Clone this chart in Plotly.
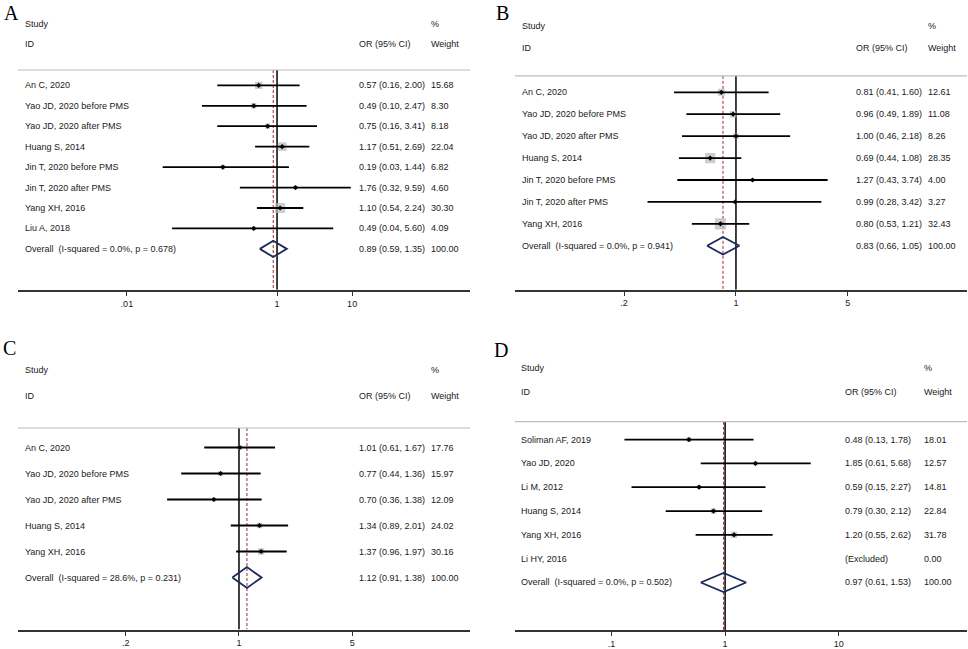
import plotly.graph_objects as go

W, H = 968, 649

# ---- data ----
a_names = ["An C, 2020", "Yao JD, 2020 before PMS", "Yao JD, 2020 after PMS", "Huang S, 2014",
           "Jin T, 2020 before PMS", "Jin T, 2020 after PMS", "Yang XH, 2016", "Liu A, 2018"]
a_or = [0.57, 0.49, 0.75, 1.17, 0.19, 1.76, 1.10, 0.49]
a_lo = [0.16, 0.10, 0.16, 0.51, 0.03, 0.32, 0.54, 0.04]
a_hi = [2.00, 2.47, 3.41, 2.69, 1.44, 9.59, 2.24, 5.60]
a_w = [15.68, 8.30, 8.18, 22.04, 6.82, 4.60, 30.30, 4.09]
a_overall = [0.89, 0.59, 1.35]
a_het = "Overall  (I-squared = 0.0%, p = 0.678)"

b_names = ["An C, 2020", "Yao JD, 2020 before PMS", "Yao JD, 2020 after PMS", "Huang S, 2014",
           "Jin T, 2020 before PMS", "Jin T, 2020 after PMS", "Yang XH, 2016"]
b_or = [0.81, 0.96, 1.00, 0.69, 1.27, 0.99, 0.80]
b_lo = [0.41, 0.49, 0.46, 0.44, 0.43, 0.28, 0.53]
b_hi = [1.60, 1.89, 2.18, 1.08, 3.74, 3.42, 1.21]
b_w = [12.61, 11.08, 8.26, 28.35, 4.00, 3.27, 32.43]
b_overall = [0.83, 0.66, 1.05]
b_het = "Overall  (I-squared = 0.0%, p = 0.941)"

c_names = ["An C, 2020", "Yao JD, 2020 before PMS", "Yao JD, 2020 after PMS", "Huang S, 2014", "Yang XH, 2016"]
c_or = [1.01, 0.77, 0.70, 1.34, 1.37]
c_lo = [0.61, 0.44, 0.36, 0.89, 0.96]
c_hi = [1.67, 1.36, 1.38, 2.01, 1.97]
c_w = [17.76, 15.97, 12.09, 24.02, 30.16]
c_overall = [1.12, 0.91, 1.38]
c_het = "Overall  (I-squared = 28.6%, p = 0.231)"

d_names = ["Soliman AF, 2019", "Yao JD, 2020", "Li M, 2012", "Huang S, 2014", "Yang XH, 2016", "Li HY, 2016"]
d_or = [0.48, 1.85, 0.59, 0.79, 1.20, None]
d_lo = [0.13, 0.61, 0.15, 0.30, 0.55, None]
d_hi = [1.78, 5.68, 2.27, 2.12, 2.62, None]
d_w = [18.01, 12.57, 14.81, 22.84, 31.78, 0.00]
d_overall = [0.97, 0.61, 1.53]
d_het = "Overall  (I-squared = 0.0%, p = 0.502)"

a_ticks, a_ticktext = [0.01, 1, 10], [".01", "1", "10"]
b_ticks, b_ticktext = [0.2, 1, 5], [".2", "1", "5"]
c_ticks, c_ticktext = [0.2, 1, 5], [".2", "1", "5"]
d_ticks, d_ticktext = [0.1, 1, 10], [".1", "1", "10"]

# ---- layout per panel (pixel positions) ----
panels = [
    dict(letter="A", lx=2, ly=0, names=a_names, o=a_or, lo=a_lo, hi=a_hi, w=a_w, ov=a_overall, het=a_het,
         ticks=a_ticks, tt=a_ticktext, x0=18, x1=470, xr=[-3.45, 2.57], row0=86, sp=20.6,
         tx_study=23, tx_or=357, tx_w=429, box=1.85),
    dict(letter="B", lx=494, ly=0, names=b_names, o=b_or, lo=b_lo, hi=b_hi, w=b_w, ov=b_overall, het=b_het,
         ticks=b_ticks, tt=b_ticktext, x0=515, x1=967, xr=[-1.381, 1.444], row0=93, sp=22.1,
         tx_study=520, tx_or=854, tx_w=926, box=1.95),
    dict(letter="C", lx=1, ly=338, names=c_names, o=c_or, lo=c_lo, hi=c_hi, w=c_w, ov=c_overall, het=c_het,
         ticks=c_ticks, tt=c_ticktext, x0=18, x1=470, xr=[-1.364, 1.426], row0=451, sp=26.2,
         tx_study=23, tx_or=357, tx_w=429, box=1.15),
    dict(letter="D", lx=492, ly=340, names=d_names, o=d_or, lo=d_lo, hi=d_hi, w=d_w, ov=d_overall, het=d_het,
         ticks=d_ticks, tt=d_ticktext, x0=515, x1=967, xr=[-1.85, 2.13], row0=443, sp=24.0,
         tx_study=519, tx_or=843, tx_w=922, box=1.12),
]

TXT = "#1a1a1a"
FONT = "Liberation Sans, Arial, sans-serif"
fig = go.Figure()
annotations = []
shapes = []
layout = {}

for k, p in enumerate(panels, start=1):
    xa, ya = ("x" if k == 1 else f"x{k}"), ("y" if k == 1 else f"y{k}")
    n = len(p["names"])
    bottom = n + 2
    top = -3.5
    axis_y = p["row0"] + bottom * p["sp"]
    top_y = p["row0"] + top * p["sp"]
    layout[f"xaxis{k if k > 1 else ''}"] = dict(
        type="log", domain=[p["x0"] / W, p["x1"] / W], range=p["xr"], anchor=ya,
        tickvals=p["ticks"], ticktext=p["tt"], ticks="outside", ticklen=4, tickwidth=1.2,
        tickcolor="#333", showline=True, linecolor="#333", linewidth=2,
        showgrid=False, zeroline=False, tickfont=dict(family=FONT, size=9, color=TXT))
    layout[f"yaxis{k if k > 1 else ''}"] = dict(
        domain=[1 - axis_y / H, 1 - top_y / H], range=[bottom, top], anchor=xa, visible=False)

    rows = list(range(n))
    sep = -0.75
    # separator line
    shapes.append(dict(type="line", xref=f"{xa} domain", yref=ya, x0=0, x1=1, y0=sep, y1=sep,
                       line=dict(color="#bdbdbd", width=1.2)))
    # null line and overall line
    fig.add_trace(go.Scatter(x=[1, 1], y=[sep, bottom], xaxis=xa, yaxis=ya, mode="lines",
                             line=dict(color="black", width=1.5), hoverinfo="skip"))
    fig.add_trace(go.Scatter(x=[p["ov"][0]] * 2, y=[sep, bottom], xaxis=xa, yaxis=ya, mode="lines",
                             line=dict(color="#a3262b", width=1, dash="3px,2px"), hoverinfo="skip"))
    # boxes
    bx = [o for o in p["o"] if o is not None]
    by = [r for r, o in zip(rows, p["o"]) if o is not None]
    bs = [p["box"] * (w ** 0.5) for w, o in zip(p["w"], p["o"]) if o is not None]
    fig.add_trace(go.Scatter(x=bx, y=by, xaxis=xa, yaxis=ya, mode="markers",
                             marker=dict(symbol="square", size=bs, color="#b8b8b8", line=dict(width=0))))
    # CI lines
    cx, cy = [], []
    for r, lo, hi in zip(rows, p["lo"], p["hi"]):
        if lo is None:
            continue
        cx += [lo, hi, None]
        cy += [r, r, None]
    fig.add_trace(go.Scatter(x=cx, y=cy, xaxis=xa, yaxis=ya, mode="lines",
                             line=dict(color="black", width=1.8), hoverinfo="skip"))
    # point estimates
    fig.add_trace(go.Scatter(x=bx, y=by, xaxis=xa, yaxis=ya, mode="markers",
                             marker=dict(symbol="diamond", size=4, color="black")))
    # overall diamond
    est, lo, hi = p["ov"]
    h = 0.4
    fig.add_trace(go.Scatter(x=[lo, est, hi, est, lo], y=[n, n - h, n, n + h, n], xaxis=xa, yaxis=ya,
                             mode="lines", line=dict(color="#1b2a5c", width=1.8), hoverinfo="skip"))

    def txt(xpx, y, s):
        annotations.append(dict(xref="paper", yref=ya, x=xpx / W, y=y, text=s, showarrow=False,
                                xanchor="left", yanchor="middle",
                                font=dict(family=FONT, size=9, color=TXT)))

    txt(p["tx_study"], -3, "Study")
    txt(p["tx_study"], -2, "ID")
    txt(p["tx_or"], -2, "OR (95% CI)")
    txt(p["tx_w"], -3, "%")
    txt(p["tx_w"], -2, "Weight")
    for r, name, o, l, hh, w in zip(rows, p["names"], p["o"], p["lo"], p["hi"], p["w"]):
        txt(p["tx_study"], r, name)
        txt(p["tx_or"], r, "(Excluded)" if o is None else f"{o:.2f} ({l:.2f}, {hh:.2f})")
        txt(p["tx_w"], r, f"{w:.2f}")
    txt(p["tx_study"], n, p["het"])
    txt(p["tx_or"], n, f"{est:.2f} ({lo:.2f}, {hi:.2f})")
    txt(p["tx_w"], n, "100.00")

    annotations.append(dict(xref="paper", yref="paper", x=p["lx"] / W, y=1 - p["ly"] / H, text=p["letter"],
                            showarrow=False, xanchor="left", yanchor="top",
                            font=dict(family="Liberation Serif, Times New Roman, serif", size=20, color="black")))

fig.update_layout(
    width=W, height=H, margin=dict(l=0, r=0, t=0, b=0),
    paper_bgcolor="white", plot_bgcolor="white", showlegend=False,
    annotations=annotations, shapes=shapes, **layout)

fig.write_html("out.html", config={"displayModeBar": False},
               post_script="document.body.style.margin='0';document.body.style.overflow='hidden';")
